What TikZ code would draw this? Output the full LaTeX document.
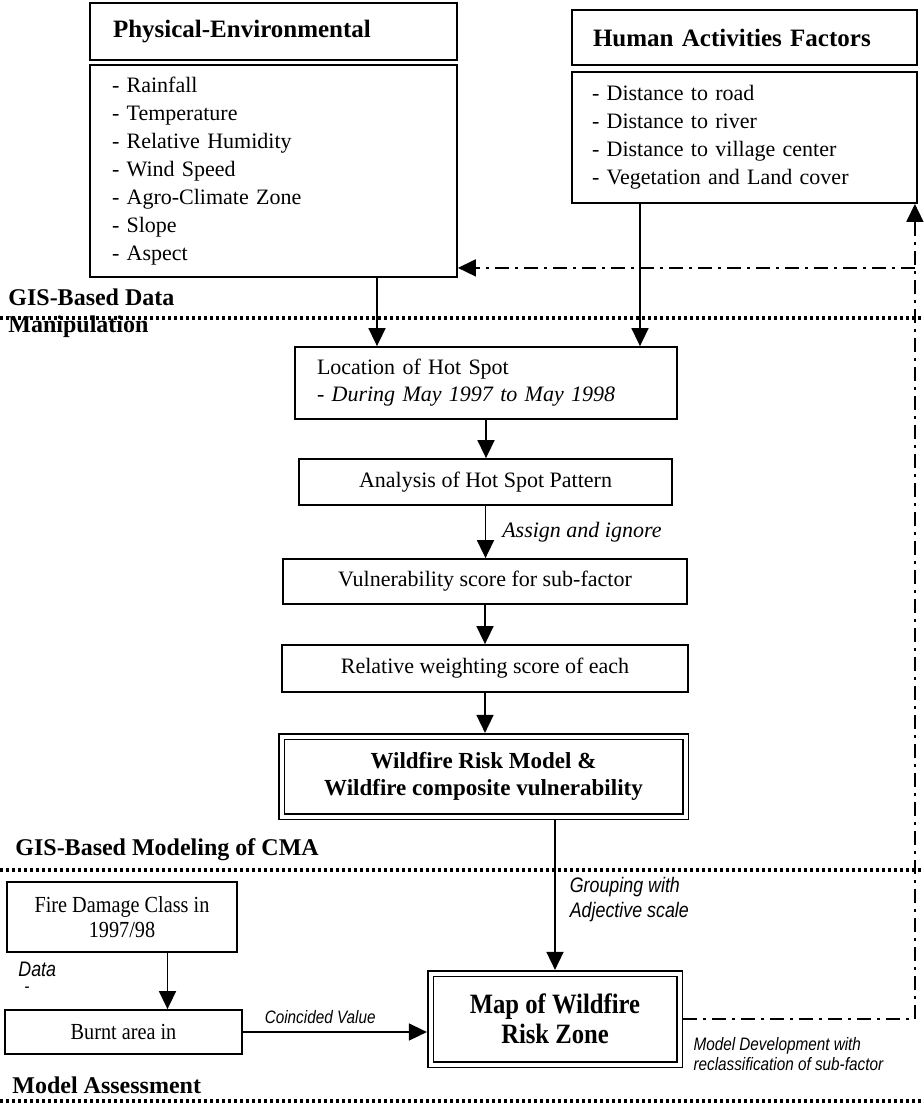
\documentclass[tikz,border=0pt]{standalone}
\usepackage{fontspec}
\setmainfont{Liberation Serif}
\newfontfamily\narrowserif[FakeStretch=0.88]{Liberation Serif}
\newfontfamily\narrowsans[FakeStretch=0.85]{Liberation Sans}
\usetikzlibrary{arrows.meta}
\tikzset{
  box/.style={draw, line width=0.9pt, inner sep=0pt},
  dblbox/.style={draw, double, double distance=2pt, line width=0.8pt, inner sep=0pt, outer sep=1.8pt},
  arr/.style={-{Triangle[width=8.5pt,length=9pt]}, line width=0.8pt},
  sep/.style={line width=1.6pt, dash pattern=on 1.7pt off 1.3pt},
  dashdot/.style={line width=1pt, dash pattern=on 7pt off 3pt on 1.5pt off 3pt},
  seclabel/.style={anchor=west, align=left, inner sep=0pt, font=\bfseries\fontsize{12}{13.5}\selectfont},
  lbl/.style={inner sep=0pt, font=\narrowsans\itshape\fontsize{9}{10}\selectfont}
}
\begin{document}
\begin{tikzpicture}[x=0.5pt,y=-0.5pt]
      \useasboundingbox (0,0) rectangle (924,1109);
      \node[box, minimum width=183.5pt, minimum height=28.5pt, text width=160.5pt, align=left,
        font=\bfseries\fontsize{12.5}{14}\selectfont] (physhead) at (273.5,31.5) {Physical-Environmental};
      \node[box, minimum width=183.5pt, minimum height=106pt, text width=161.5pt, align=left,
        font=\fontsize{11}{14}\selectfont] (physlist) at (273.5,171)
        {- Rainfall\\- Temperature\\- Relative Humidity\\- Wind Speed\\- Agro-Climate Zone\\- Slope\\- Aspect};
      \node[box, minimum width=172.5pt, minimum height=27.5pt, text width=151.5pt, align=left,
        font=\bfseries\fontsize{12.5}{14}\selectfont] (humanhead) at (744.5,37.5) {Human Activities Factors};
      \node[box, minimum width=172.5pt, minimum height=65.5pt, text width=152.5pt, align=left,
        font=\fontsize{11}{14}\selectfont] (humanlist) at (744.5,137.5)
        {- Distance to road\\- Distance to river\\- Distance to village center\\- Vegetation and Land cover};
      \node[box, minimum width=191pt, minimum height=36pt, text width=169pt, align=left,
        font=\fontsize{11}{13.5}\selectfont] (loc) at (486,383)
        {Location of Hot Spot\\\textit{- During May 1997 to May 1998}};
      \node[box, minimum width=186.5pt, minimum height=23pt, font=\fontsize{11}{13}\selectfont]
        (analysis) at (485.5,482) {Analysis of Hot Spot Pattern};
      \node[box, minimum width=202pt, minimum height=22.5pt, font=\fontsize{11}{13}\selectfont]
        (vuln) at (485,581.5) {Vulnerability score for sub-factor};
      \node[box, minimum width=203pt, minimum height=23.5pt, font=\fontsize{11}{13}\selectfont]
        (relw) at (485,668.5) {Relative weighting score of each};
      \node[dblbox, minimum width=202pt, minimum height=40pt, align=center,
        font=\bfseries\fontsize{11.5}{13.5}\selectfont] (riskmodel) at (483.5,776.5)
        {Wildfire Risk Model \&\\Wildfire composite vulnerability};
      \node[dblbox, minimum width=124.5pt, minimum height=45.5pt, align=center,
        font=\narrowserif\bfseries\fontsize{14}{15}\selectfont] (map) at (555,1019)
        {Map of Wildfire\\Risk Zone};
      \node[box, minimum width=115pt, minimum height=35pt, align=center,
        font=\narrowserif\fontsize{11.5}{12.5}\selectfont] (firedmg) at (122,917)
        {Fire Damage Class in\\1997/98};
      \node[box, minimum width=118.5pt, minimum height=22pt,
        font=\narrowserif\fontsize{11.5}{13}\selectfont] (burnt) at (123.5,1032) {Burnt area in};

      \node[seclabel] (gisdata) at (8,313.5) {GIS-Based Data\\Manipulation};
      \node[seclabel] (giscma) at (15,850) {GIS-Based Modeling of CMA};
      \node[seclabel] (assess) at (12,1085) {Model Assessment};
      \node[lbl, anchor=west, font=\narrowsans\itshape\fontsize{10.5}{12}\selectfont] (datalbl) at (18,969) {Data};
      \node[lbl, anchor=west] (datadash) at (24,990) {-};
      \node[lbl, anchor=north west, align=left] (modeldev) at ([xshift=5pt,yshift=-9pt]map.east)
        {Model Development with\\reclassification of sub-factor};

      \begin{scope}[line cap=butt]
        \draw[sep] (0,318) -- (924,318);
        \draw[sep] (0,870) -- (924,870);
        \draw[sep] (0,1101) -- (924,1101);
      \end{scope}

      \draw[arr] ([xshift=51.75pt]physlist.south) -- ([xshift=51.75pt]physlist.south |- loc.north);
      \draw[arr] ([xshift=-52.25pt]humanlist.south) -- ([xshift=-52.25pt]humanlist.south |- loc.north);
      \draw[arr] (loc.south) -- (loc.south |- analysis.north);
      \draw[arr] (analysis.south) -- (analysis.south |- vuln.north)
        node[midway, right=8pt, inner sep=0pt, font=\itshape\fontsize{11}{13}\selectfont] (assign) {Assign and ignore};
      \draw[arr] (vuln.south) -- (vuln.south |- relw.north);
      \draw[arr] (relw.south) -- (relw.south |- riskmodel.north);
      \draw[arr] (map.north |- riskmodel.south) -- (map.north)
        node[pos=0.53, right=7pt, lbl, align=left, font=\narrowsans\itshape\fontsize{10.5}{12.5}\selectfont]
        (grouping) {Grouping with\\Adjective scale};
      \draw[arr] ([xshift=22.75pt]firedmg.south) -- ([xshift=22.75pt]firedmg.south |- burnt.north);
      \draw[arr] (burnt.east) -- (burnt.east -| map.west)
        node[pos=0.42, above=4pt, lbl] (coincided) {Coincided Value};

      \coordinate (loopup) at ([xshift=-1.5pt]humanlist.south east);
      \coordinate (loopmid) at ([yshift=-32pt]loopup);
      \draw[dashdot, arr] (map.east) -| (loopup);
      \draw[dashdot, arr] (loopmid) -- (loopmid -| physlist.east);
\end{tikzpicture}
\end{document}
